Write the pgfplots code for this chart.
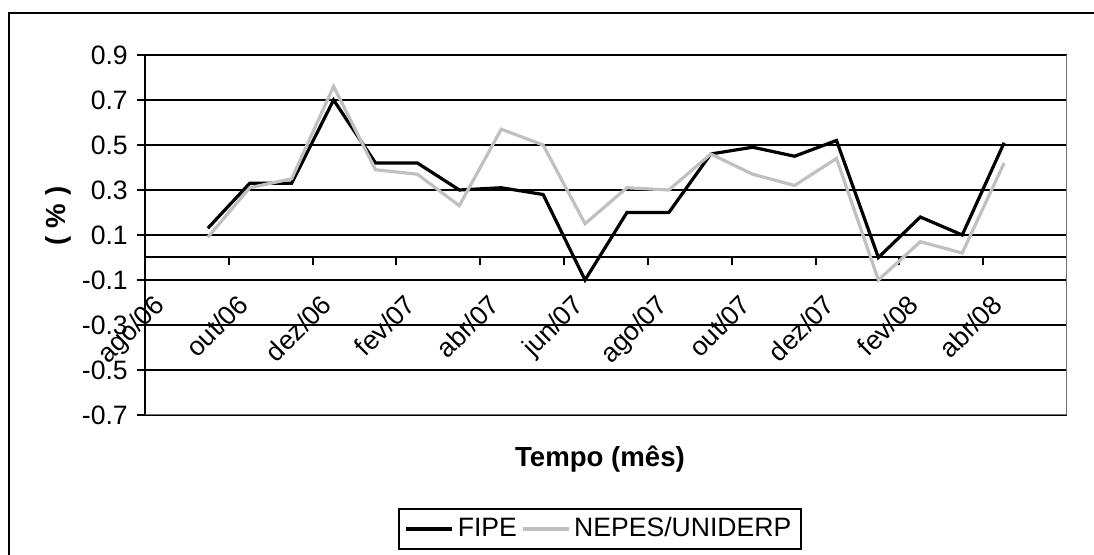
\documentclass[border=0pt]{standalone}
\usepackage{fontspec}
\setmainfont{Liberation Sans}
\usepackage{pgfplots}
\pgfplotsset{compat=1.18}
\definecolor{nepes}{RGB}{192,192,192}
\definecolor{frame}{RGB}{110,110,110}
\begin{document}
\fontsize{13.3}{16}\selectfont
\begin{tikzpicture}
\useasboundingbox (-72.5pt,-70pt) rectangle (474.5pt,207.5pt);
\draw[line width=1.3pt] (-68pt,-90pt) -- (-68pt,201pt) -- (490pt,201pt);
\begin{axis}[
  at={(0,0)}, anchor=south west,
  scale only axis, width=461pt, height=180pt,
  xmin=0, xmax=22, ymin=-0.7, ymax=0.9,
  axis x line=middle, axis y line=left,
  hide obscured x ticks=false,
  axis line style={-, line width=1pt, black},
  xtick={0,2,...,20},
  xticklabels={ago/06,out/06,dez/06,fev/07,abr/07,jun/07,ago/07,out/07,dez/07,fev/08,abr/08},
  ytick={-0.7,-0.5,-0.3,-0.1,0.1,0.3,0.5,0.7,0.9},
  yticklabels={-0.7,-0.5,-0.3,-0.1,0.1,0.3,0.5,0.7,0.9},
  ymajorgrids, grid style={black, line width=1.1pt},
  tick align=outside, major tick length=4pt,
  tick style={black, line width=1pt},
  tick label style={font=\fontsize{13.3}{16}\selectfont},
  xticklabel style={rotate=45, anchor=north east, inner sep=0pt, xshift=-7pt, yshift=-12pt},
  yticklabel style={anchor=east},
  ylabel={\textbf{( \% )}},
  ylabel style={at={(axis description cs:-0.094,0.553)}, anchor=center, rotate=0, font=\fontsize{13.8}{16}\selectfont},
  xlabel={\textbf{Tempo (mês)}},
  xlabel style={at={(axis description cs:0.4935,-0.122)}, anchor=center, font=\fontsize{13.8}{16}\selectfont},
  legend columns=2,
  legend style={at={(axis description cs:0.4935,-0.3167)}, anchor=center, draw=black, line width=1pt,
    font=\fontsize{13.3}{16}\selectfont, /tikz/every even column/.append style={column sep=0pt}},
  legend image code/.code={\draw[#1] (0pt,0pt) -- (23pt,0pt);},
]
\addplot[black, line width=1.6pt] coordinates {
(1.5,0.13) (2.5,0.33) (3.5,0.33) (4.5,0.70) (5.5,0.42) (6.5,0.42) (7.5,0.30)
(8.5,0.31) (9.5,0.28) (10.5,-0.10) (11.5,0.20) (12.5,0.20) (13.5,0.46) (14.5,0.49)
(15.5,0.45) (16.5,0.52) (17.5,0.00) (18.5,0.18) (19.5,0.10) (20.5,0.51)};
\addlegendentry{FIPE}
\addplot[nepes, line width=1.6pt] coordinates {
(1.5,0.09) (2.5,0.31) (3.5,0.35) (4.5,0.76) (5.5,0.39) (6.5,0.37) (7.5,0.23)
(8.5,0.57) (9.5,0.50) (10.5,0.15) (11.5,0.31) (12.5,0.30) (13.5,0.46) (14.5,0.37)
(15.5,0.32) (16.5,0.44) (17.5,-0.10) (18.5,0.07) (19.5,0.02) (20.5,0.42)};
\addlegendentry{NEPES/UNIDERP}
\draw[frame, line width=1pt] (rel axis cs:1,0) -- (rel axis cs:1,1);
\draw[frame, line width=1pt] (rel axis cs:0,0) -- (rel axis cs:1,0);
\end{axis}
\end{tikzpicture}
\end{document}
